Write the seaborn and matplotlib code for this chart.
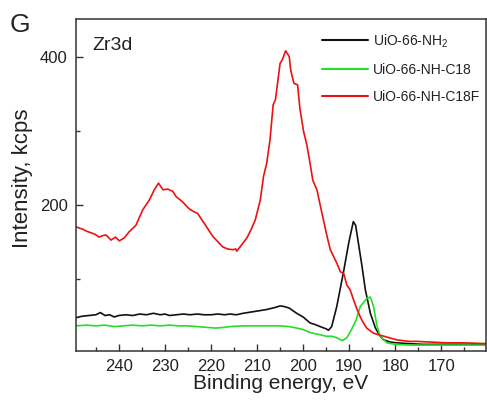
import numpy as np
import pandas as pd
import matplotlib
matplotlib.use("Agg")
import matplotlib.pyplot as plt
import seaborn as sns
from matplotlib.lines import Line2D
from matplotlib.ticker import MultipleLocator

# ---- data ----
series_names = ["UiO-66-NH$_2$", "UiO-66-NH-C18", "UiO-66-NH-C18F"]
series_colors = ["#111111", "#22e022", "#ee1111"]

nh2_x = [249.3, 248.0, 246.5, 245.0, 244.0, 243.0, 242.0, 241.0, 240.0, 238.5,
         237.0, 235.5, 234.0, 232.5, 231.0, 230.0, 229.0, 227.5, 226.0, 224.5,
         223.0, 221.5, 220.0, 218.5, 217.0, 215.9, 214.5, 213.0, 212.0, 210.0,
         208.0, 206.0, 205.0, 204.0, 203.0, 201.4, 200.0, 198.5, 197.5, 196.3,
         195.0, 194.5, 193.8, 192.7, 191.2, 190.1, 189.8, 189.1, 188.6, 188.0,
         187.2, 186.5, 185.4, 184.3, 183.3, 182.5, 181.0, 179.6, 177.0, 174.0,
         170.0, 165.0, 160.2]
nh2_y = [47, 49, 50, 51, 54, 50, 51, 48, 50, 51,
         50, 52, 51, 53, 51, 52, 50, 51, 52, 51,
         52, 51, 51, 52, 51, 52, 51, 53, 54, 56,
         58, 61, 63, 62, 60, 53, 48, 40, 38, 35,
         32, 30, 35, 62, 110, 148, 157, 177, 172, 148,
         116, 85, 53, 33, 22, 17, 14, 13, 12, 11,
         11, 11, 11]

c18_x = [249.3, 247.0, 245.0, 243.0, 241.0, 239.0, 237.0, 235.0, 233.0, 231.0,
         229.0, 227.0, 225.0, 223.0, 221.0, 219.0, 217.0, 215.9, 213.0, 210.0,
         207.0, 205.0, 203.0, 201.4, 200.0, 198.5, 196.3, 195.0, 193.8, 192.7,
         191.5, 190.5, 190.1, 189.1, 188.5, 187.6, 186.2, 185.4, 184.7, 184.0,
         183.3, 181.8, 180.0, 177.0, 174.0, 170.0, 165.0, 160.2]
c18_y = [36, 37, 36, 37, 35, 36, 37, 36, 37, 36,
         37, 36, 36, 35, 34, 33, 34, 35, 36, 36,
         36, 36, 35, 33, 31, 27, 24, 22, 22, 20,
         16, 20, 24, 36, 44, 62, 73, 75, 62, 37,
         22, 13, 11, 10, 10, 10, 10, 10]

c18f_x = [249.3, 248.5, 247.9, 247.0, 246.1, 245.2, 244.3, 243.5, 242.8, 241.7,
          240.7, 239.9, 238.8, 237.8, 236.3, 234.8, 233.4, 232.3, 231.4, 230.4,
          229.4, 228.3, 227.6, 226.2, 224.7, 223.9, 222.9, 221.5, 219.6, 217.5,
          216.4, 215.3, 214.6, 214.4, 213.3, 212.2, 211.3, 210.4, 209.3, 208.6,
          207.9, 207.2, 206.5, 206.0, 205.0, 204.5, 203.8, 203.0, 202.7, 202.0,
          201.2, 200.7, 199.9, 199.2, 198.5, 197.9, 197.0, 195.9, 194.8, 194.1,
          192.7, 191.9, 191.2, 190.5, 189.8, 189.1, 188.4, 187.6, 186.9, 186.2,
          184.7, 182.5, 179.6, 177.0, 175.3, 172.0, 168.8, 165.0, 160.2]
c18f_y = [170, 168, 167, 164, 162, 160, 156, 158, 159, 152,
          156, 151, 155, 163, 172, 193, 206, 220, 229, 220,
          221, 218, 211, 204, 194, 191, 188, 175, 157, 143,
          140, 139, 140, 137, 146, 155, 166, 179, 206, 238,
          256, 287, 335, 342, 391, 396, 408, 400, 382, 364,
          362, 330, 299, 281, 256, 233, 220, 188, 157, 139,
          121, 109, 107, 91, 85, 72, 60, 48, 40, 33,
          26, 22, 17, 15, 15, 14, 13, 13, 12]

x_major = [240, 230, 220, 210, 200, 190, 180, 170]
y_major = [200, 400]

frames = []
for name, xs, ys in zip(series_names, [nh2_x, c18_x, c18f_x], [nh2_y, c18_y, c18f_y]):
    frames.append(pd.DataFrame({"energy": xs, "intensity": ys, "sample": name}))
df = pd.concat(frames, ignore_index=True)

# ---- style ----
sns.set_style("ticks")
plt.rcParams["font.family"] = ["Liberation Sans", "DejaVu Sans"]
plt.rcParams["mathtext.fontset"] = "custom"
plt.rcParams["mathtext.rm"] = "Liberation Sans"
plt.rcParams["mathtext.default"] = "regular"

fig = plt.figure(figsize=(4.87, 4.0), dpi=100)
ax = fig.add_axes([76 / 487, 49 / 400, 410 / 487, 332 / 400])

palette = dict(zip(series_names, series_colors))
sns.lineplot(data=df, x="energy", y="intensity", hue="sample", palette=palette,
             estimator=None, sort=False, linewidth=1.2, legend=False, ax=ax)

ax.set_xlim(249.3, 160.3)
ax.set_ylim(2, 451)

ax.set_xticks(x_major)
ax.xaxis.set_minor_locator(MultipleLocator(5))
ax.set_yticks(y_major)
ax.yaxis.set_minor_locator(MultipleLocator(100))

text_color = "#222222"
ax.tick_params(axis="both", which="major", direction="in", length=5, width=1.0,
               labelsize=12, pad=6, colors="#333333", labelcolor=text_color)
ax.tick_params(axis="both", which="minor", direction="in", length=3, width=1.0,
               colors="#333333")
for s in ax.spines.values():
    s.set_visible(True)
    s.set_linewidth(1.1)
    s.set_color("#333333")

ax.set_xlabel("Binding energy, eV", fontsize=15, color=text_color)
ax.set_ylabel("Intensity, kcps", fontsize=16, color=text_color)
ax.xaxis.set_label_coords(0.5, -0.07)
ax.yaxis.set_label_coords(-0.105, 0.52)

ax.text(0.039, 0.92, "Zr3d", transform=ax.transAxes, fontsize=14,
        ha="left", va="center", color=text_color)
fig.text(20 / 487, 1 - 25 / 400, "G", fontsize=19, ha="center", va="center",
         color=text_color)

handles = [Line2D([0], [0], color=c, lw=1.5) for c in series_colors]
leg = ax.legend(handles, series_names, loc="upper left",
                bbox_to_anchor=(0.6, 0.96), frameon=False, fontsize=10,
                handlelength=3.3, handletextpad=0.35, labelspacing=0.95,
                borderaxespad=0, borderpad=0)
for t in leg.get_texts():
    t.set_color(text_color)

fig.savefig("out.png", dpi=100)
